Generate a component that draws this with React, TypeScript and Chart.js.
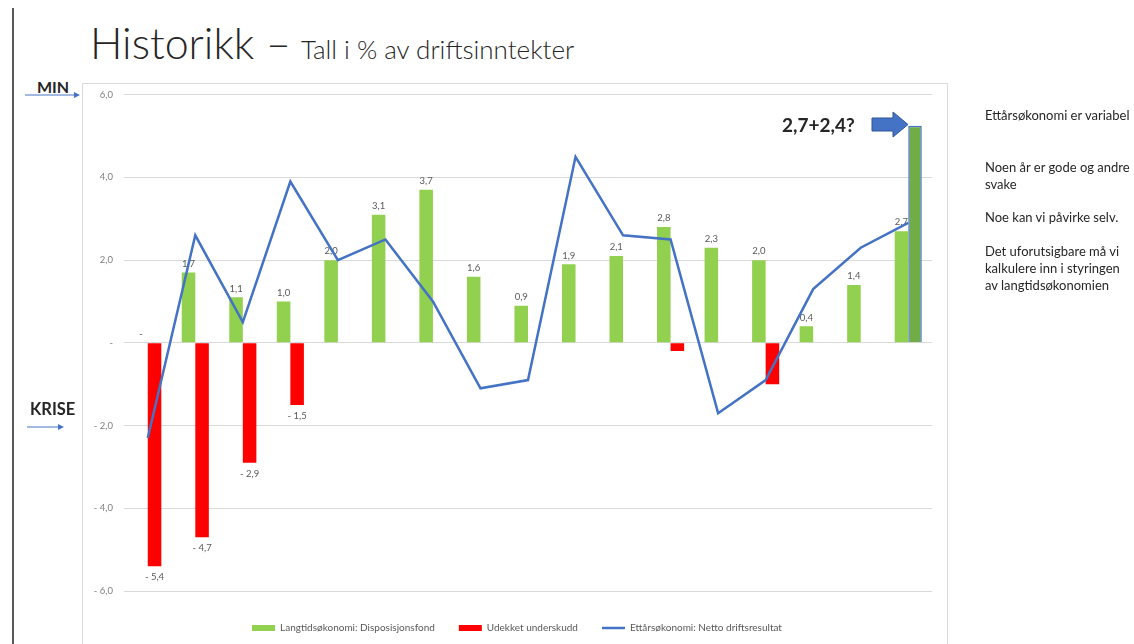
import React, { useEffect, useRef } from "react";
import { Chart, registerables } from "chart.js";

Chart.register(...registerables);

// ---- Data ----
const years = ["2001", "2002", "2003", "2004", "2005", "2006", "2007", "2008", "2009", "2010", "2011", "2012", "2013", "2014", "2015", "2016", "2017"];
const disposisjonsfond = [0, 1.7, 1.1, 1.0, 2.0, 3.1, 3.7, 1.6, 0.9, 1.9, 2.1, 2.8, 2.3, 2.0, 0.4, 1.4, 2.7];
const udekketUnderskudd = [-5.4, -4.7, -2.9, -1.5, null, null, null, null, null, null, null, -0.2, null, -1.0, null, null, null];
const prognose2017 = [null, null, null, null, null, null, null, null, null, null, null, null, null, null, null, null, 5.25];
const nettoDriftsresultat = [-2.3, 2.6, 0.5, 3.9, 2.0, 2.5, 1.0, -1.1, -0.9, 4.5, 2.6, 2.5, -1.7, -0.9, 1.3, 2.3, 2.9];
const hiddenRedLabelYears = ["2012", "2014"];
const seriesNames = ["Langtidsøkonomi: Disposisjonsfond", "Udekket underskudd", "Prognose", "Ettårsøkonomi: Netto driftsresultat"];
const notes = [
  { text: "Ettårsøkonomi er variabel", y: 107 },
  { text: "Noen år er gode og andre", y: 159 },
  { text: "svake", y: 176 },
  { text: "Noe kan vi påvirke selv.", y: 209 },
  { text: "Det uforutsigbare må vi", y: 243 },
  { text: "kalkulere inn i styringen", y: 260 },
  { text: "av langtidsøkonomien", y: 277 },
];

const GREEN = "#92D050";
const RED = "#FF0000";
const BLUE = "#4472C4";
const DARKGREEN = "#70AD47";
const FONT = "Lato, 'Open Sans', sans-serif";

const fmt = (v: number) =>
  v === 0 ? "-" : v < 0 ? "- " + Math.abs(v).toFixed(1).replace(".", ",") : v.toFixed(1).replace(".", ",");

const labelPlugin = {
  id: "barLabels",
  afterLayout(chart: any) {
    // nudge the legend row slightly right, as in the original
    if (chart.legend) {
      chart.legend.left += 10;
      chart.legend.right += 10;
    }
  },
  beforeDatasetsDraw(chart: any) {
    const ctx = chart.ctx;
    ctx.save();
    ctx.font = "9.5px " + FONT;
    ctx.fillStyle = "#595959";
    ctx.textAlign = "center";
    const g = chart.getDatasetMeta(0);
    g.data.forEach((el: any, i: number) => {
      const v = disposisjonsfond[i];
      if (v == null) return;
      ctx.textBaseline = "bottom";
      ctx.fillText(fmt(v), el.x, el.y - 4);
    });
    const r = chart.getDatasetMeta(1);
    r.data.forEach((el: any, i: number) => {
      const v = udekketUnderskudd[i];
      if (v == null || hiddenRedLabelYears.includes(years[i])) return;
      ctx.textBaseline = "top";
      ctx.fillText(fmt(v), el.x, el.y + 6);
    });
    ctx.restore();
  },
};

function HistChart() {
  const ref = useRef<HTMLCanvasElement | null>(null);
  useEffect(() => {
    if (!ref.current) return;
    const chart = new Chart(ref.current, {
      type: "bar",
      data: {
        labels: years,
        datasets: [
          {
            type: "bar",
            label: seriesNames[0],
            data: disposisjonsfond,
            backgroundColor: GREEN,
            stack: "a",
            order: 2,
          },
          {
            type: "bar",
            label: seriesNames[1],
            data: udekketUnderskudd as any,
            backgroundColor: RED,
            stack: "b",
            order: 2,
          },
          {
            type: "bar",
            label: seriesNames[2],
            data: prognose2017 as any,
            backgroundColor: DARKGREEN,
            borderColor: BLUE,
            borderWidth: 1.5,
            stack: "b",
            order: 2,
          },
          {
            type: "line",
            label: seriesNames[3],
            data: nettoDriftsresultat,
            borderColor: BLUE,
            borderWidth: 2.5,
            pointRadius: 0,
            tension: 0,
            order: 0,
          } as any,
        ],
      },
      options: {
        responsive: false,
        animation: false,
        devicePixelRatio: 1,
        layout: { padding: { top: 0, right: 16, left: 0, bottom: 0 } },
        datasets: { bar: { categoryPercentage: 0.57, barPercentage: 1 } },
        plugins: {
          tooltip: { enabled: false },
          legend: {
            position: "bottom",
            labels: {
              usePointStyle: true,
              pointStyleWidth: 23,
              boxHeight: 6,
              padding: 24,
              color: "#595959",
              font: { family: FONT, size: 10 },
              generateLabels: (c: any) => {
                const ds = c.data.datasets;
                return [
                  { text: ds[0].label, fillStyle: GREEN, strokeStyle: GREEN, lineWidth: 0, pointStyle: "rect", datasetIndex: 0, hidden: false, fontColor: "#595959" },
                  { text: ds[1].label, fillStyle: RED, strokeStyle: RED, lineWidth: 0, pointStyle: "rect", datasetIndex: 1, hidden: false, fontColor: "#595959" },
                  { text: ds[3].label, fillStyle: BLUE, strokeStyle: BLUE, lineWidth: 2.5, pointStyle: "line", datasetIndex: 3, hidden: false, fontColor: "#595959" },
                ];
              },
            },
          },
        },
        scales: {
          x: {
            grid: { display: false, drawTicks: false },
            border: { display: false },
            ticks: { color: "#7f7f7f", font: { family: FONT, size: 9.5 }, padding: 9, maxRotation: 0, autoSkip: false },
            afterFit: (s: any) => {
              s.height = 8;
            },
          },
          y: {
            min: -6,
            max: 6,
            grid: { color: "#d9d9d9", lineWidth: 1, drawTicks: false },
            border: { display: false },
            ticks: {
              stepSize: 2,
              color: "#7f7f7f",
              font: { family: FONT, size: 9.5 },
              padding: 11,
              callback: (v: any) => fmt(Number(v)),
            },
            afterFit: (s: any) => {
              s.width = 42;
            },
          },
        },
      } as any,
      plugins: [labelPlugin],
    });
    return () => chart.destroy();
  }, []);
  return <canvas ref={ref} width={866} height={565} style={{ position: "absolute", left: 82, top: 78, width: 866, height: 565 }} />;
}

export default function App() {
  useEffect(() => {
    document.body.style.margin = "0";
  }, []);
  const text = "#262626";
  return (
    <div style={{ position: "relative", width: 1134, height: 644, overflow: "hidden", background: "#fff", fontFamily: FONT, color: text }}>
      {/* left vertical rule */}
      <div style={{ position: "absolute", left: 12, top: 8, width: 2, height: 640, background: "#595959" }} />
      {/* title */}
      <div style={{ position: "absolute", left: 90, top: 18, whiteSpace: "nowrap", display: "flex", alignItems: "baseline" }}>
        <span style={{ fontSize: 43, fontWeight: 300, lineHeight: "50px" }}>Historikk –</span>
        <span style={{ fontSize: 26, fontWeight: 300, lineHeight: "50px", marginLeft: 10 }}>Tall i % av driftsinntekter</span>
      </div>
      {/* chart frame */}
      <div style={{ position: "absolute", left: 82, top: 83, width: 866, height: 600, border: "1px solid #d9d9d9", boxSizing: "border-box" }} />
      <HistChart />
      {/* MIN */}
      <div style={{ position: "absolute", left: 37, top: 79, fontSize: 16, fontWeight: 700, lineHeight: "16px" }}>MIN</div>
      <svg style={{ position: "absolute", left: 0, top: 0 }} width={1134} height={644}>
        <line x1={25} y1={95} x2={76} y2={95} stroke={BLUE} strokeWidth={1} />
        <polygon points="80,95 74,92 74,98" fill={BLUE} />
        <line x1={27} y1={427} x2={60} y2={427} stroke={BLUE} strokeWidth={1} />
        <polygon points="64,427 58,424 58,430" fill={BLUE} />
        <polygon points="872,118 893,118 893,112 908,124.5 893,137 893,131 872,131" fill={BLUE} stroke="#2F5597" strokeWidth={1} />
      </svg>
      {/* KRISE */}
      <div style={{ position: "absolute", left: 30, top: 400, fontSize: 16.5, fontWeight: 700, lineHeight: "18px" }}>KRISE</div>
      {/* annotation */}
      <div style={{ position: "absolute", left: 782, top: 114, fontSize: 19, fontWeight: 700, lineHeight: "22px", whiteSpace: "nowrap" }}>2,7+2,4?</div>
      {/* notes */}
      {notes.map((n, i) => (
        <div key={i} style={{ position: "absolute", left: 985, top: n.y, fontSize: 13, lineHeight: "16px", whiteSpace: "nowrap" }}>
          {n.text}
        </div>
      ))}
    </div>
  );
}
